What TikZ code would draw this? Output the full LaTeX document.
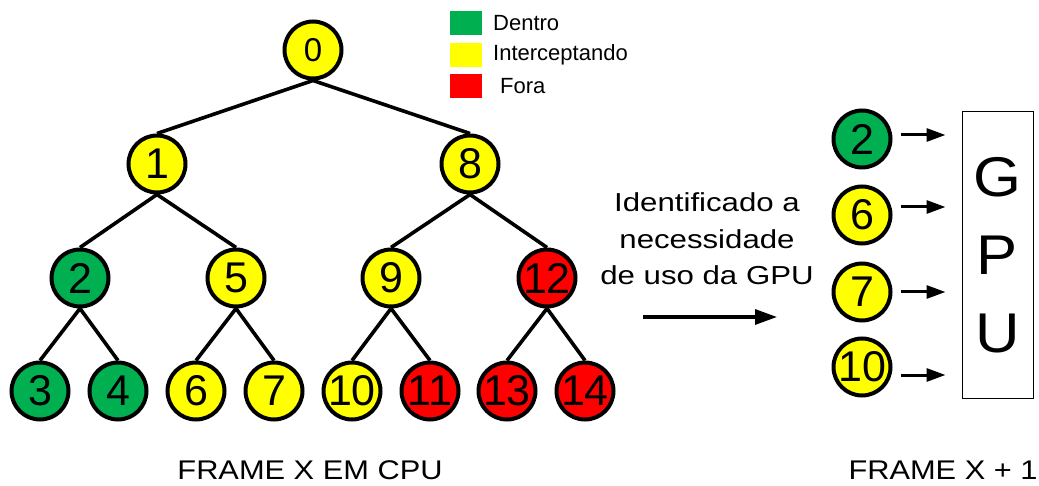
\documentclass[tikz,border=0pt]{standalone}
\usepackage{fontspec}
\setmainfont{Liberation Sans}
\newfontfamily\midfont[FakeStretch=1.2]{Liberation Sans}
\newfontfamily\botfont[FakeStretch=1.14]{Liberation Sans}
\newfontfamily\gpufont[FakeStretch=1.1]{Liberation Sans}
\usetikzlibrary{arrows.meta}
\definecolor{cgreen}{RGB}{0,176,80}
\definecolor{cyellow}{RGB}{255,255,0}
\definecolor{cred}{RGB}{255,0,0}
\tikzset{
  tn/.style={circle, draw=black, line width=4pt, minimum size=57pt, inner sep=0pt,
    font=\fontsize{43}{43}\selectfont},
  tg/.style={tn, fill=cgreen},
  ty/.style={tn, fill=cyellow},
  tr/.style={tn, fill=cred},
  edge/.style={line width=3.6pt},
  arr/.style={line width=3pt, -{Triangle[length=19pt,width=13pt]}},
  bigarr/.style={line width=3.2pt, -{Triangle[length=22pt,width=15pt]}},
  legsq/.style={rectangle, minimum width=32pt, minimum height=24pt, inner sep=0pt},
  legtxt/.style={anchor=west, inner sep=0pt, font=\fontsize{22}{22}\selectfont},
}
\begin{document}
\begin{tikzpicture}[x=1pt,y=-1pt]
\useasboundingbox (0,0) rectangle (1039,486);
% tree
\node[ty, font=\fontsize{33}{33}\selectfont] (n0) at (313,50) {0};
\node[ty] (n1) at (157,164) {1};
\node[ty] (n8) at (470,164) {8};
\node[tg] (n2) at (80,278) {2};
\node[ty] (n5) at (236,278) {5};
\node[ty] (n9) at (391,278) {9};
\node[tr] (n12) at (547,278) {12};
\node[tg] (n3) at (40,391) {3};
\node[tg] (n4) at (118,391) {4};
\node[ty] (n6) at (196,391) {6};
\node[ty] (n7) at (274,391) {7};
\node[ty] (n10) at (352,391) {10};
\node[tr] (n11) at (430,391) {11};
\node[tr] (n13) at (507,391) {13};
\node[tr] (n14) at (585,391) {14};
\foreach \p/\c in {n0/n1,n0/n8,n1/n2,n1/n5,n8/n9,n8/n12,n2/n3,n2/n4,n5/n6,n5/n7,n9/n10,n9/n11,n12/n13,n12/n14}
  \draw[edge] (\p.south) -- (\c.north);
% legend
\node[legsq, fill=cgreen] (lg) at (466,23) {};
\node[legsq, fill=cyellow] (ly) at (466,55) {};
\node[legsq, fill=cred] (lr) at (466,86) {};
\node[legtxt] (tg) at (493,23) {Dentro};
\node[legtxt] (ty) at (493,55) {Interceptando};
\node[legtxt] (tr) at (500,86) {Fora};
% middle text and arrow
\node[align=center, inner sep=0pt, font=\midfont\fontsize{26}{36.5}\selectfont] (mid) at (707,239)
  {Identificado a\\necessidade\\de uso da GPU};
\coordinate (a1) at (643,317);
\coordinate (a2) at (777,317);
\draw[bigarr] (a1) -- (a2);
% right side
\node[tg] (r2) at (862,139) {2};
\node[ty] (r6) at (862,215) {6};
\node[ty] (r7) at (862,292) {7};
\node[ty] (r10) at (862,367) {10};
\node[draw=black, line width=1pt, minimum width=71pt, minimum height=286pt, inner sep=0pt,
  align=center, font=\gpufont\fontsize{56}{78}\selectfont] (gpu) at (997.5,255) {G\\P\\U};
\draw[arr, shorten >=16pt] ([xshift=8pt,yshift=4pt]r2.east) -- ([yshift=4pt]r2.east -| gpu.west);
\draw[arr, shorten >=16pt] ([xshift=8pt,yshift=8pt]r6.east) -- ([yshift=8pt]r6.east -| gpu.west);
\draw[arr, shorten >=16pt] ([xshift=8pt]r7.east) -- (r7.east -| gpu.west);
\draw[arr, shorten >=16pt] ([xshift=8pt,yshift=-8pt]r10.east) -- ([yshift=-8pt]r10.east -| gpu.west);
% bottom labels
\node[anchor=base, inner sep=0pt, font=\botfont\fontsize{27}{27}\selectfont] (lab1) at (310,479) {FRAME X EM CPU};
\node[anchor=base, inner sep=0pt, font=\botfont\fontsize{27}{27}\selectfont] (lab2) at (943,479) {FRAME X + 1};
\end{tikzpicture}
\end{document}
